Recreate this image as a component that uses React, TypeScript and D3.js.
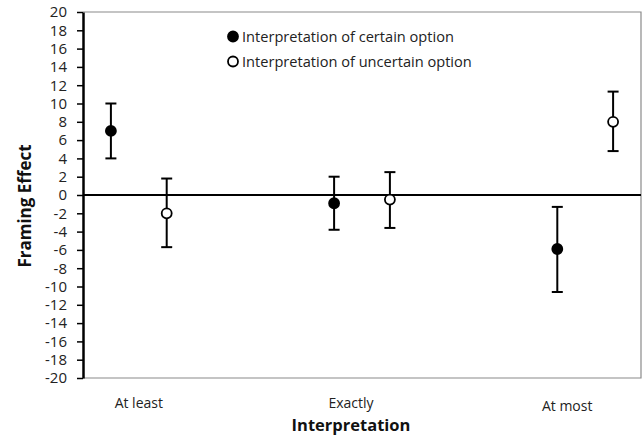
import React, { useEffect, useRef } from "react";
import * as d3 from "d3";

// values
const categories = ["At least", "Exactly", "At most"];
const certainMean = [7.0, -0.9, -5.9];
const certainLow = [4.0, -3.8, -10.6];
const certainHigh = [10.0, 2.0, -1.3];
const uncertainMean = [-2.0, -0.5, 8.0];
const uncertainLow = [-5.7, -3.6, 4.8];
const uncertainHigh = [1.8, 2.5, 11.3];
const yTicks = [-20, -18, -16, -14, -12, -10, -8, -6, -4, -2, 0, 2, 4, 6, 8, 10, 12, 14, 16, 18, 20];
const seriesNames = ["Interpretation of certain option", "Interpretation of uncertain option"];

export default function App() {
  const svgRef = useRef<SVGSVGElement>(null);

  useEffect(() => {
    document.body.style.margin = "0";
    const svg = d3.select(svgRef.current);
    svg.selectAll("*").remove();

    const width = 642;
    const height = 438;
    const left = 83, right = 641, top = 12, bottom = 378;
    const font = "'Open Sans', 'Liberation Sans', sans-serif";

    const y = d3.scaleLinear().domain([-20, 20]).range([bottom, top]);
    const x = d3.scalePoint<string>().domain(categories).range([left, right]).padding(0.25);
    const dodge = x.step() * 0.125;

    svg.attr("width", width).attr("height", height);

    // frame (thin grey)
    svg.append("path")
      .attr("d", `M${left},${top}H${right}V${bottom}H${left}`)
      .attr("fill", "none")
      .attr("stroke", "#8a8a8a")
      .attr("stroke-width", 1.2);

    // y axis
    const yAxis = svg.append("g").attr("transform", `translate(${left},0)`)
      .call(
        d3.axisLeft(y)
          .tickValues(yTicks)
          .tickFormat(d => String(d))
          .tickSize(6)
          .tickSizeOuter(0)
          .tickPadding(10)
      );
    yAxis.select(".domain").attr("stroke", "#000").attr("stroke-width", 2.5);
    yAxis.selectAll(".tick line").attr("stroke", "#000").attr("stroke-width", 1.5);
    yAxis.selectAll(".tick text")
      .attr("font-family", font)
      .attr("font-size", 15)
      .attr("fill", "#222");

    // zero line
    svg.append("line")
      .attr("x1", left).attr("x2", right)
      .attr("y1", y(0)).attr("y2", y(0))
      .attr("stroke", "#000").attr("stroke-width", 2);

    const series = [
      { mean: certainMean, low: certainLow, high: certainHigh, off: -dodge, fill: "#000" },
      { mean: uncertainMean, low: uncertainLow, high: uncertainHigh, off: dodge, fill: "#fff" },
    ];

    series.forEach(s => {
      const g = svg.append("g");
      categories.forEach((c, i) => {
        const cx = (x(c) as number) + s.off;
        g.append("line")
          .attr("x1", cx).attr("x2", cx)
          .attr("y1", y(s.low[i])).attr("y2", y(s.high[i]))
          .attr("stroke", "#000").attr("stroke-width", 2);
        [s.low[i], s.high[i]].forEach(v => {
          g.append("line")
            .attr("x1", cx - 5.5).attr("x2", cx + 5.5)
            .attr("y1", y(v)).attr("y2", y(v))
            .attr("stroke", "#000").attr("stroke-width", 2);
        });
        g.append("circle")
          .attr("cx", cx).attr("cy", y(s.mean[i]))
          .attr("r", 5)
          .attr("fill", s.fill)
          .attr("stroke", "#000").attr("stroke-width", 1.8);
      });
    });

    // category labels (the original text boxes sit a bit left of the points)
    const labelDx = [0, -11, -18];
    svg.append("g").selectAll("text")
      .data(categories)
      .enter()
      .append("text")
      .attr("x", (d, i) => (x(d) as number) + labelDx[i])
      .attr("y", (d, i) => (i === 2 ? 411 : 408))
      .attr("text-anchor", "middle")
      .attr("font-family", font)
      .attr("font-size", 14)
      .attr("fill", "#222")
      .text(d => d);

    // axis titles
    svg.append("text")
      .attr("x", 351)
      .attr("y", 431)
      .attr("text-anchor", "middle")
      .attr("font-family", font)
      .attr("font-size", 16.5)
      .attr("font-weight", "bold")
      .attr("fill", "#111")
      .text("Interpretation");

    svg.append("text")
      .attr("transform", `translate(31,206) rotate(-90)`)
      .attr("text-anchor", "middle")
      .attr("font-family", font)
      .attr("font-size", 17)
      .attr("font-weight", "bold")
      .attr("fill", "#111")
      .text("Framing Effect");

    // legend
    const legend = svg.append("g").attr("transform", "translate(233,36.5)");
    const items = legend.selectAll("g")
      .data(seriesNames)
      .enter()
      .append("g")
      .attr("transform", (_, i) => `translate(0,${i * 25})`);
    items.append("circle")
      .attr("r", 5)
      .attr("fill", (_, i) => series[i].fill)
      .attr("stroke", "#000")
      .attr("stroke-width", 1.8);
    items.append("text")
      .attr("x", 9)
      .attr("y", 5)
      .attr("font-family", font)
      .attr("font-size", 14.6)
      .attr("fill", "#222")
      .text(d => d);
  }, []);

  return <svg ref={svgRef} style={{ display: "block" }} />;
}
